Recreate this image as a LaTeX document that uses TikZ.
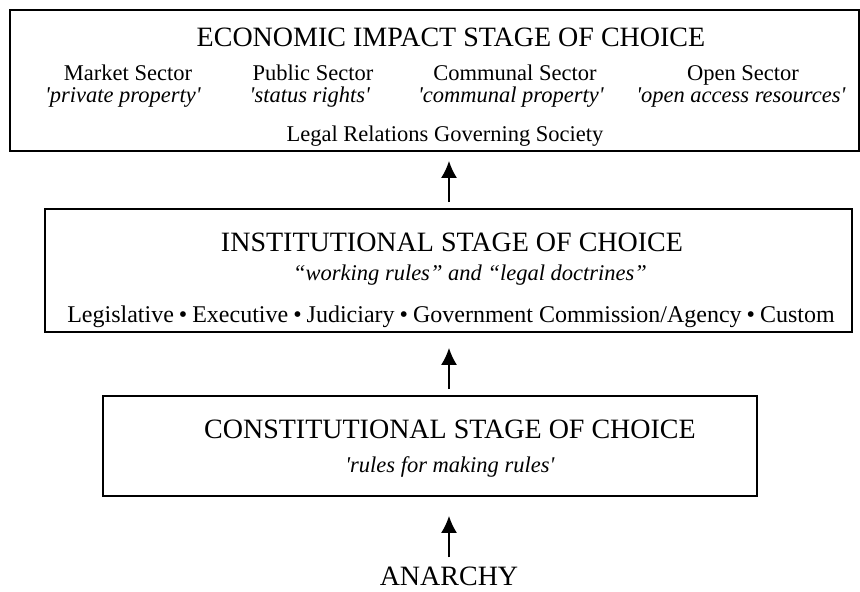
\documentclass[tikz,border=0pt]{standalone}
\usepackage{fontspec}
\setmainfont{Liberation Serif}
\usetikzlibrary{positioning,arrows.meta}
\tikzset{
    x=1pt,
    y=-1pt,
    stage/.style = {
        draw,
        shape=rectangle,
        line width=1.8pt,
        inner sep=0pt
    },
    heading/.style = {
        anchor=base,
        inner sep=0pt,
        font=\fontsize{28}{32}\selectfont
    },
    body/.style = {
        anchor=base,
        inner sep=0pt,
        font=\fontsize{22.5}{26}\selectfont
    },
    flow/.style = {
        ->,
        line width=1.8pt
    },
    >={Latex[length=17pt,width=16pt]},
}
\newcommand{\sq}[1]{\textit{\textquotesingle #1\textquotesingle}}
\newcommand{\dotsep}{\hspace{5pt}•\hspace{5pt}}

\begin{document}
\begin{tikzpicture}
            \useasboundingbox (0,0) rectangle (860,592);

            % economic impact stage
            \node[stage, minimum width=849, minimum height=141] (econ) at (434.5,80.5) {};
            \node[heading] (econtitle) at (451,46) {ECONOMIC IMPACT STAGE OF CHOICE};
            \node[body] (market) at (128,80) {Market Sector};
            \node[body] (marketnote) at (123,102) {\sq{private property}};
            \node[body] (public) at (313,80) {Public Sector};
            \node[body] (publicnote) at (310,102) {\sq{status rights}};
            \node[body] (communal) at (515,80) {Communal Sector};
            \node[body] (communalnote) at (511,102) {\sq{communal property}};
            \node[body] (open) at (743,80) {Open Sector};
            \node[body] (opennote) at (741,102) {\sq{open access resources}};
            \node[body] (legal) at (445,141) {Legal Relations Governing Society};

            % institutional stage
            \node[stage, minimum width=807, minimum height=123] (inst) at (448.5,270.5) {};
            \node[heading] (insttitle) at (452,251) {INSTITUTIONAL STAGE OF CHOICE};
            \node[body] (instnote) at (470,280) {\textit{“working rules” and “legal doctrines”}};
            \node[body, font=\fontsize{24}{28}\selectfont] (branches) at (451,322) {Legislative\dotsep Executive\dotsep Judiciary\dotsep Government Commission/Agency\dotsep Custom};

            % constitutional stage
            \node[stage, minimum width=654, minimum height=100] (const) at (430,446) {};
            \node[heading] (consttitle) at (450,438) {CONSTITUTIONAL STAGE OF CHOICE};
            \node[body] (constnote) at (450,472) {\sq{rules for making rules}};

            \node[heading] (anarchy) at (449,585) {ANARCHY};

            \draw[flow, shorten <=9pt, shorten >=19pt] (anarchy.north) -- (const.south -| anarchy);
            \draw[flow, shorten <=6pt, shorten >=15pt] (const.north -| anarchy) -- (inst.south -| anarchy);
            \draw[flow, shorten <=6pt, shorten >=9pt] (inst.north -| anarchy) -- (econ.south -| anarchy);
        \end{tikzpicture}
\end{document}
